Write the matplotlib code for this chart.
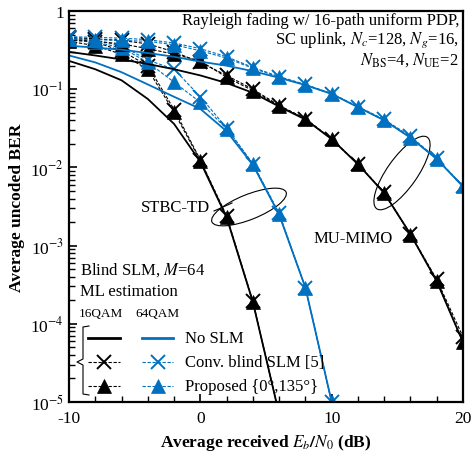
import matplotlib.pyplot as plt
import numpy as np
from matplotlib.patches import Ellipse

plt.rcParams['font.family'] = 'Liberation Serif'
plt.rcParams['mathtext.fontset'] = 'stix'
plt.rcParams['axes.unicode_minus'] = False

BLUE = '#0070c0'

# STBC-TD, 16QAM (black)
snr_stbc16 = [-10, -8, -6, -4, -2, 0, 2, 4, 6]
stbc16_noslm = [0.23, 0.18, 0.13, 0.075, 0.036, 0.0118, 0.0023, 1.9e-4, 7e-6]
stbc16_conv = [0.45, 0.40, 0.31, 0.20, 0.055, 0.0125, 0.0024, 1.95e-4, 7e-6]
stbc16_prop = [0.41, 0.36, 0.28, 0.18, 0.051, 0.0122, 0.0023, 1.9e-4, 7e-6]

# STBC-TD, 64QAM (blue)
snr_stbc64 = [-10, -8, -6, -4, -2, 0, 2, 4, 6, 8, 10]
stbc64_noslm = [0.27, 0.22, 0.165, 0.115, 0.08, 0.056, 0.029, 0.0108, 0.0025, 2.9e-4, 1e-5]
stbc64_conv = [0.45, 0.42, 0.36, 0.236, 0.18, 0.08, 0.032, 0.0112, 0.0026, 2.9e-4, 1e-5]
stbc64_prop = [0.43, 0.40, 0.34, 0.22, 0.123, 0.068, 0.031, 0.011, 0.0025, 2.9e-4, 1e-5]

# MU-MIMO (both)
snr_mu = [-10, -8, -6, -4, -2, 0, 2, 4, 6, 8, 10, 12, 14, 16, 18, 20]
mu16_noslm = [0.30, 0.27, 0.24, 0.21, 0.18, 0.15, 0.12, 0.09, 0.06, 0.041, 0.023, 0.011, 0.0047, 0.0014, 3.5e-4, 5.8e-5]
mu16_conv = [0.46, 0.44, 0.42, 0.38, 0.30, 0.22, 0.15, 0.10, 0.062, 0.042, 0.023, 0.011, 0.0048, 0.0014, 3.7e-4, 6.8e-5]
mu16_prop = [0.42, 0.41, 0.38, 0.33, 0.28, 0.23, 0.142, 0.096, 0.061, 0.042, 0.023, 0.011, 0.0047, 0.00138, 3.5e-4, 5.8e-5]
mu64_noslm = [0.36, 0.34, 0.32, 0.29, 0.26, 0.225, 0.2, 0.17, 0.14, 0.113, 0.087, 0.059, 0.040, 0.024, 0.0128, 0.0057]
mu64_conv = [0.47, 0.46, 0.45, 0.43, 0.39, 0.33, 0.26, 0.19, 0.145, 0.115, 0.088, 0.06, 0.041, 0.025, 0.013, 0.0058]
mu64_prop = [0.44, 0.43, 0.42, 0.41, 0.37, 0.31, 0.25, 0.185, 0.142, 0.113, 0.087, 0.059, 0.040, 0.024, 0.0128, 0.0057]

yticks = [1e-5, 1e-4, 1e-3, 1e-2, 1e-1, 1]
ytick_labels = ['10$^{-5}$', '10$^{-4}$', '10$^{-3}$', '10$^{-2}$', '10$^{-1}$', '1']
xticks = [-10, 0, 10, 20]

fig = plt.figure(figsize=(4.74, 4.64), dpi=100)
W, H = 474, 464
L, R, T, B = 69, 463, 12, 403
ax = fig.add_axes([L / W, 1 - B / H, (R - L) / W, (B - T) / H])


def ap(x, y):
    # pixel -> axes fraction
    return (x - L) / (R - L), (B - y) / (B - T)


def curves(snr, nos, conv, prop, c):
    ax.plot(snr, nos, '-', color=c, lw=1.3)
    ax.plot(snr, conv, '--', color=c, lw=0.8, dashes=(3, 1.5), marker='x', ms=9.5, mew=1.4)
    ax.plot(snr, prop, '--', color=c, lw=0.8, dashes=(3, 1.5), marker='^', ms=9.5, mew=0.5)


curves(snr_stbc16, stbc16_noslm, stbc16_conv, stbc16_prop, 'black')
curves(snr_stbc64, stbc64_noslm, stbc64_conv, stbc64_prop, BLUE)
curves(snr_mu, mu16_noslm, mu16_conv, mu16_prop, 'black')
curves(snr_mu, mu64_noslm, mu64_conv, mu64_prop, BLUE)

ax.set_yscale('log')
ax.set_xlim(-10, 20)
ax.set_ylim(1e-5, 1)
ax.set_xticks(xticks)
ax.set_xticks(np.arange(-10, 21, 2), minor=True)
ax.set_yticks(yticks)
ax.set_yticklabels(ytick_labels)
ax.tick_params(which='both', direction='in', top=False, right=False, labelsize=12.5)
ax.tick_params(which='major', length=6, width=1.2)
ax.tick_params(which='minor', length=4, width=1.0)
ax.tick_params(axis='x', pad=6)
for s in ax.spines.values():
    s.set_linewidth(1.6)

ax.set_ylabel('Average uncoded BER', fontsize=12.5, fontweight='bold', labelpad=4)
ax.set_xlabel('Average received $\\boldsymbol{E_b/N_0}$ (dB)', fontsize=12.5, fontweight='bold', labelpad=4)

tr = ax.transAxes
ax.text(*ap(459, 13), 'Rayleigh fading w/ 16-path uniform PDP,\nSC uplink, $N_c$=128, $N_g$=16,\n$N_{\\mathrm{BS}}$=4, $N_{\\mathrm{UE}}$=2',
        transform=tr, ha='right', va='top', fontsize=12, linespacing=1.1)

ax.text(*ap(175, 208), 'STBC-TD', transform=tr, ha='center', va='center', fontsize=12)
ax.text(*ap(353, 239), 'MU-MIMO', transform=tr, ha='center', va='center', fontsize=12)
ax.add_patch(Ellipse(ap(249, 208), 80 / (R - L), 25 / (B - T), angle=22, transform=tr,
                     fill=False, lw=0.8, color='black'))
ax.add_patch(Ellipse(ap(402, 174), 88 / (R - L), 30 / (B - T), angle=55, transform=tr,
                     fill=False, lw=0.8, color='black'))
ax.plot(*zip(ap(214, 212), ap(232, 204)), transform=tr, color='black', lw=0.8)

ax.text(*ap(80, 270), 'Blind SLM, $M$=64', transform=tr, ha='left', va='center', fontsize=12)
ax.text(*ap(80, 292), 'ML estimation', transform=tr, ha='left', va='center', fontsize=12)
ax.text(*ap(79, 314), '16QAM', transform=tr, ha='left', va='center', fontsize=9.5)
ax.text(*ap(135, 314), '64QAM', transform=tr, ha='left', va='center', fontsize=9.5)

rows = [339, 363, 387]
labels = ['No SLM', 'Conv. blind SLM [5]', 'Proposed {0\u00b0,135\u00b0}']
for i, (yy, lab) in enumerate(zip(rows, labels)):
    for x0, x1, c in [(88, 120, 'black'), (142, 173, BLUE)]:
        xs, ys = zip(ap(x0, yy), ap(x1, yy))
        if i == 0:
            ax.plot(xs, ys, '-', color=c, lw=2.0, transform=tr, clip_on=False)
        else:
            ax.plot(xs, ys, '--', color=c, lw=0.8, dashes=(3, 1.5), transform=tr, clip_on=False)
            m = 'x' if i == 1 else '^'
            ax.plot([(xs[0] + xs[1]) / 2], [ys[0]], m, color=c, ms=9.5, mew=1.4 if i == 1 else 0.5,
                    transform=tr, clip_on=False)
    ax.text(*ap(185, yy), lab, transform=tr, ha='left', va='center', fontsize=12)

brace = [ap(89, 327), ap(83, 328), ap(83, 360), ap(77, 363), ap(83, 366), ap(83, 395), ap(89, 396)]
ax.plot(*zip(*brace), transform=tr, color='black', lw=0.8, clip_on=False)

fig.savefig('out.png', dpi=100)
